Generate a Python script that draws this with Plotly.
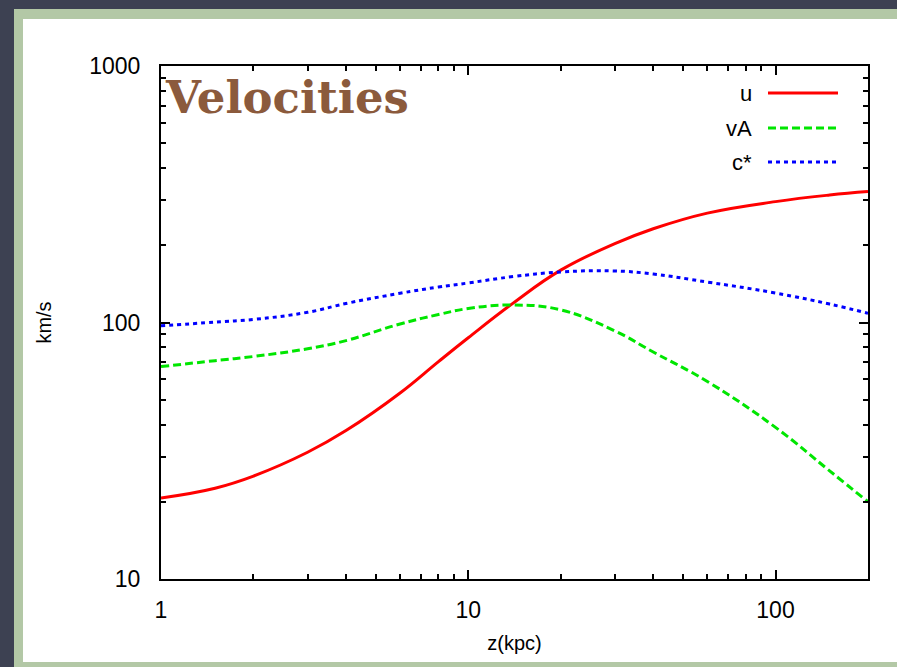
import plotly.graph_objects as go

# Data (z in kpc, velocities in km/s)
z = [1, 1.5, 2, 3, 4, 6, 8, 10, 14, 20, 30, 40, 60, 100, 150, 200]
u = [20.7, 22.6, 25.2, 31.2, 37.9, 53.1, 70.4, 87.2, 119, 160, 203, 232, 267, 296, 314, 324]
vA = [67.3, 71.0, 73.7, 79.0, 85.0, 98.7, 107.4, 113.4, 117, 112, 92.7, 76.7, 58.9, 39.0, 26.4, 20.0]
cstar = [97.2, 100.3, 102.8, 109.6, 118.6, 130, 137.5, 142.6, 151, 157.4, 158.8, 154.5, 143.8, 130.3, 118, 108.6]

series_names = ["u", "vA", "c*"]
series_colors = ["#ff0000", "#00e600", "#0000ff"]
series_dash = ["solid", "8px,4px", "4px,4px"]

L, R, T, B = 161, 29, 66, 88
W, H = 897, 667
PW, PH = W - L - R, H - T - B


def px(xpix):
    return (xpix - L) / PW


def py(ypix):
    return (H - B - ypix) / PH


fig = go.Figure()
for name, ys, col, dash in zip(series_names, [u, vA, cstar], series_colors, series_dash):
    fig.add_trace(go.Scatter(
        x=z, y=ys, mode="lines", name=name, line_shape="spline",
        line=dict(color=col, width=3, dash=dash, smoothing=1.2), showlegend=False,
    ))

tick_font = dict(family="Liberation Sans, Arial, sans-serif", size=23, color="black")
title_font = dict(family="Liberation Sans, Arial, sans-serif", size=20, color="black")

minor_ticks = dict(ticks="inside", ticklen=5, tickwidth=1.5, tickcolor="black", showgrid=False, dtick="D1")

axis_common = dict(
    type="log", showgrid=False, zeroline=False,
    showline=True, linecolor="black", linewidth=2, mirror="allticks",
    ticks="inside", ticklen=9, tickwidth=1.5, tickcolor="black",
    tickmode="linear", tick0=0, dtick=1, exponentformat="none",
    minor=minor_ticks, tickfont=tick_font,
)

fig.update_layout(
    xaxis=dict(range=[0, 2.30103], ticklabelstandoff=9,
               title=dict(text="z(kpc)", font=title_font, standoff=14), **axis_common),
    yaxis=dict(range=[1, 3], ticklabelstandoff=14,
               title=dict(text="km/s", font=title_font, standoff=32), **axis_common),
)

shapes = [
    # dark backdrop strips and green border around the white sheet
    dict(type="rect", xref="paper", yref="paper", x0=px(-5), x1=px(14), y0=py(675), y1=py(-5),
         fillcolor="#3d4152", line=dict(width=0), layer="below"),
    dict(type="rect", xref="paper", yref="paper", x0=px(-5), x1=px(905), y0=py(9), y1=py(-5),
         fillcolor="#3d4152", line=dict(width=0), layer="below"),
    dict(type="rect", xref="paper", yref="paper", x0=px(14), x1=px(23), y0=py(675), y1=py(9),
         fillcolor="#b3c8a6", line=dict(width=0), layer="below"),
    dict(type="rect", xref="paper", yref="paper", x0=px(14), x1=px(905), y0=py(19), y1=py(9),
         fillcolor="#b3c8a6", line=dict(width=0), layer="below"),
    dict(type="rect", xref="paper", yref="paper", x0=px(14), x1=px(905), y0=py(675), y1=py(662),
         fillcolor="#b3c8a6", line=dict(width=0), layer="below"),
]
annotations = [
    dict(text="<b>Velocities</b>", xref="paper", yref="paper", x=px(163), y=py(97),
         xanchor="left", yanchor="middle", showarrow=False,
         font=dict(family="DejaVu Serif, serif", size=45, color="#8b5a3c")),
]

legend_y = [93, 128, 162]
for name, col, dash, ly in zip(series_names, series_colors, series_dash, legend_y):
    shapes.append(dict(type="line", xref="paper", yref="paper", x0=px(768), x1=px(838),
                       y0=py(ly), y1=py(ly), line=dict(color=col, width=3, dash=dash)))
    annotations.append(dict(text=name, xref="paper", yref="paper", x=px(754), y=py(ly),
                            xanchor="right", yanchor="middle", showarrow=False,
                            font=dict(family="Liberation Sans, Arial, sans-serif", size=22, color="black")))

fig.update_layout(
    width=W, height=H,
    margin=dict(l=L, r=R, t=T, b=B),
    paper_bgcolor="white",
    plot_bgcolor="rgba(0,0,0,0)",
    shapes=shapes,
    annotations=annotations,
    showlegend=False,
)

fig.write_html("out.html")
